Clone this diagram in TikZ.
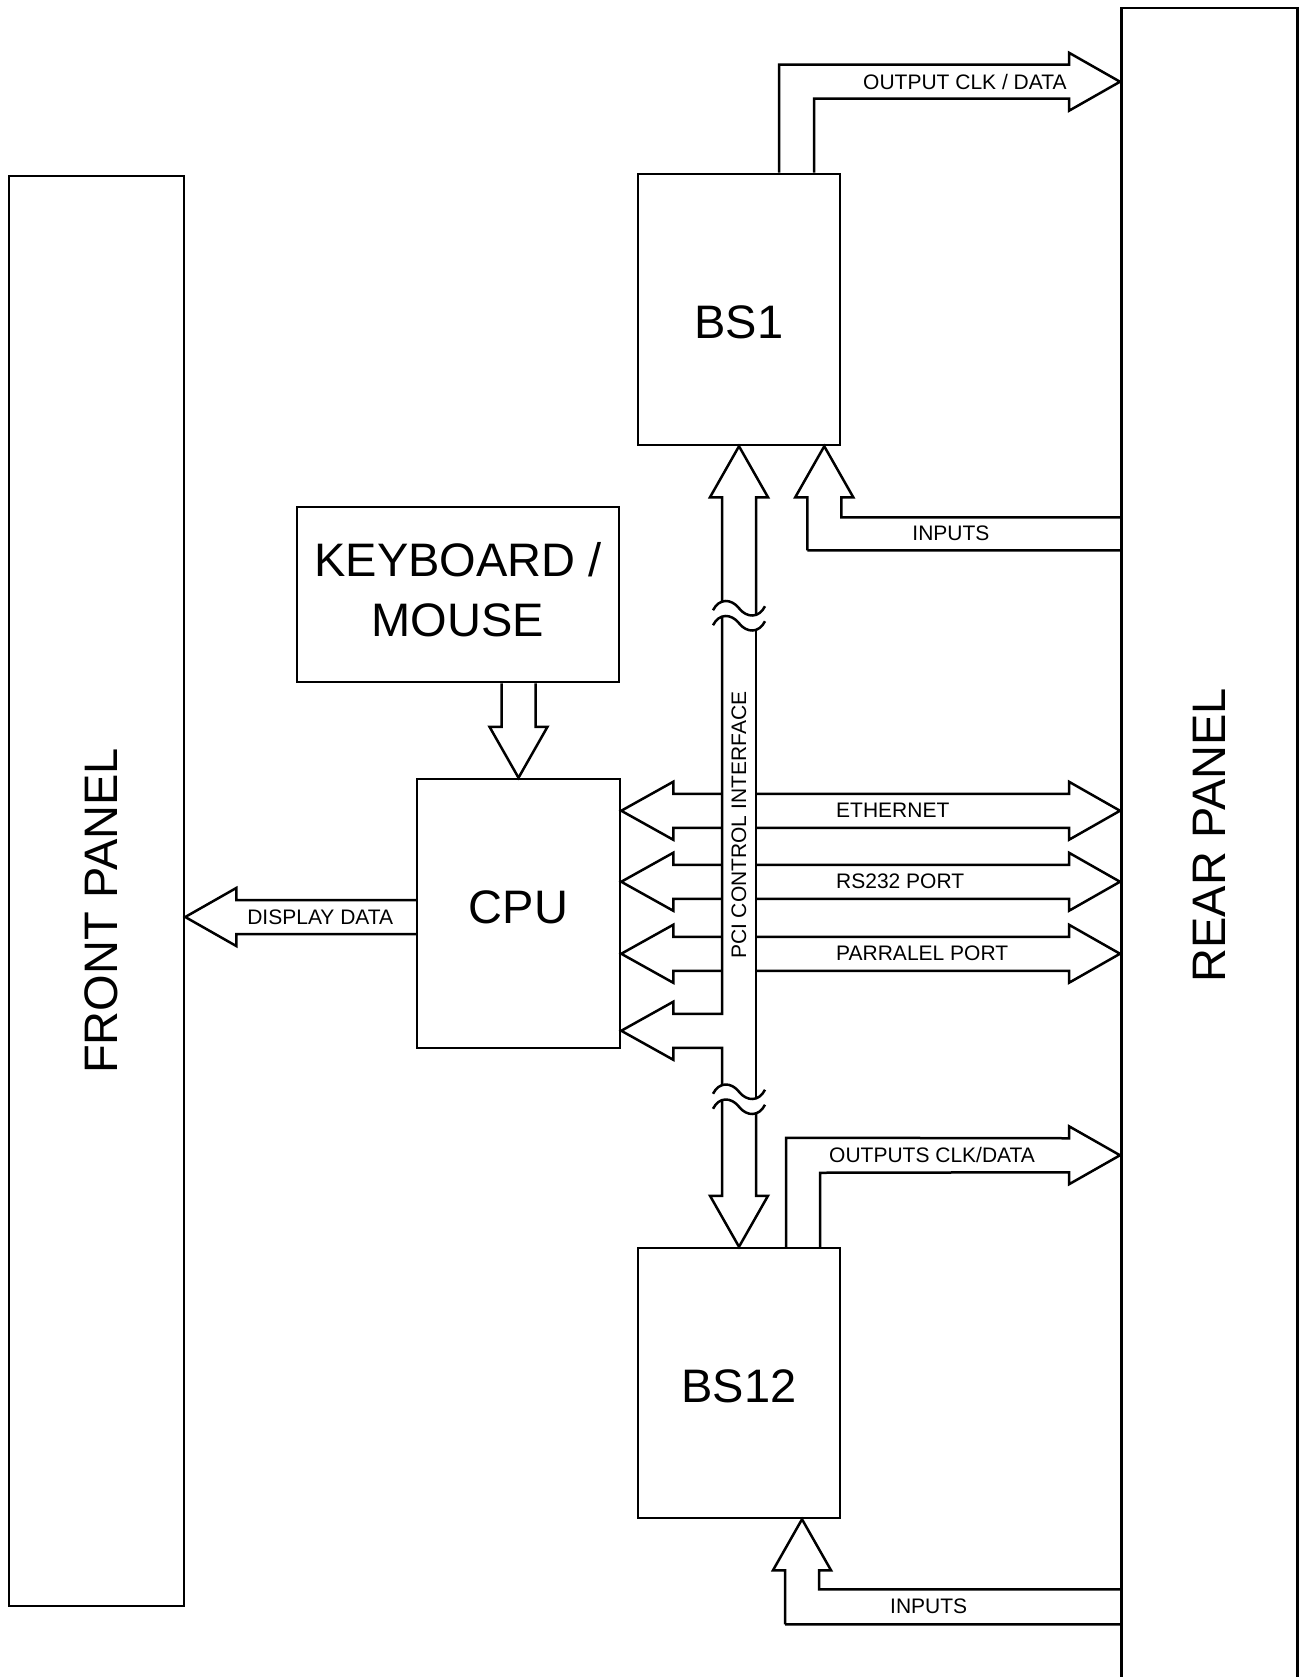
\documentclass[tikz,border=0pt]{standalone}
\usepackage{fontspec}
\setmainfont{Liberation Sans}
\usetikzlibrary{calc}
\tikzset{
  ln/.style={line width=2.5pt,line join=miter,draw=black},
  boxstyle/.style={draw=black,line width=2.5pt,fill=white,inner sep=0pt},
  bigbox/.style={boxstyle,font=\fontsize{47}{60}\selectfont,align=center},
  bigtxt/.style={font=\fontsize{47}{60}\selectfont,inner sep=0pt},
  smalltxt/.style={font=\fontsize{21}{25}\selectfont,inner sep=0pt}
}

\begin{document}
\begin{tikzpicture}[x=1pt,y=-1pt]
  \path[fill=white] (0,0) rectangle (1298,1677);
  \useasboundingbox (0,0) rectangle (1298,1677);
  % panels and boards
  \node[boxstyle,minimum width=175pt,minimum height=1430pt] (front) at (96.5,891) {};
  \node[bigtxt,rotate=90] (frontlbl) at ($(front.center)+(5,20)$) {FRONT PANEL};
  \node[boxstyle,minimum width=176pt,minimum height=1700pt,anchor=north west] (rear) at (1120,7) {};
  \node[bigtxt,rotate=90] (rearlbl) at ($(rear.center)+(0,-23)$) {REAR PANEL};
  \node[bigbox,minimum width=202pt,minimum height=271pt,text height=57.7pt,text depth=0pt] (bsone) at (739,309.5) {BS1};
  \node[bigbox,minimum width=202pt,minimum height=270pt,text height=39.7pt,text depth=0pt] (bstwelve) at (739,1383) {BS12};
  \node[bigbox,minimum width=203pt,minimum height=269pt,text height=33.7pt,text depth=13pt] (cpu) at (518.5,913.5) {CPU};
  \node[bigbox,minimum width=322pt,minimum height=175pt,text depth=10pt] (kbd) at (458,594.5) {KEYBOARD /\\MOUSE};

  \coordinate (outone) at ($(bsone.north -| rear.west)+(0,-91)$);
  \coordinate (outtwelve) at ($(bstwelve.north -| rear.west)+(0,-91.5)$);
  \coordinate (inone) at ($(bsone.south east)+(-17,0)$);
  \coordinate (intwelve) at ($(bstwelve.south)+(63,0)$);
  \coordinate (brkone) at ($(bsone.south)+(0,162)$);
  \coordinate (brktwo) at ($(bstwelve.north)+(0,-155)$);
  \coordinate (eth) at ($(cpu.north east)+(0,33)$);
  \coordinate (rs) at ($(cpu.north east)+(0,104)$);
  \coordinate (par) at ($(cpu.north east)+(0,176)$);
  \coordinate (pcirow) at ($(cpu.north east)+(0,253)$);

  % keyboard -> cpu, cpu -> front panel
  \draw[ln] ($(kbd.south -| cpu.north)+(-17,0)$) -- ($(cpu.north)+(-17,-51)$) -- ++(-12,0) -- (cpu.north) -- ($(cpu.north)+(29,-51)$) -- ++(-12,0) -- ($(kbd.south -| cpu.north)+(17,0)$);
  \draw[ln] ($(cpu.west)+(0,-13.5)$) -- ($(front.east |- cpu.west)+(51,-13.5)$) -- ++(0,-12) -- ($(front.east |- cpu.west)+(0,3.5)$) -- ($(front.east |- cpu.west)+(51,32.5)$) -- ++(0,-12) -- ($(cpu.west)+(0,20.5)$);
  \node[smalltxt] (displbl) at ($(front.east |- cpu.west)+(135,3.5)$) {DISPLAY DATA};

  % BS1 outputs and inputs
  \draw[ln] ($(bsone.north)+(40,0)$) -- ($(bsone.north)+(40,-108)$) -- ($(outone)+(-51,-17)$) -- ++(0,-12) -- (outone) -- ($(outone)+(-51,29)$) -- ++(0,-12) -- ($(bsone.north)+(75,-74)$) -- ($(bsone.north)+(75,0)$);
  \node[smalltxt,anchor=west] (outonelbl) at ($(outone)+(-257,0)$) {OUTPUT CLK / DATA};
  \draw[ln] ($(inone)+(-17,104)$) coordinate (p) -- ($(inone)+(-17,51)$) -- ++(-12,0) -- (inone) -- ($(inone)+(29,51)$) -- ++(-12,0) -- ($(inone)+(17,71)$) coordinate (q) -- (q -| rear.west) (p) -- (p -| rear.west);
  \node[smalltxt,anchor=west] (inonelbl) at ($(inone)+(88,87.5)$) {INPUTS};

  % BS12 outputs and inputs
  \draw[ln] ($(bstwelve.north)+(47,0)$) -- ($(bstwelve.north)+(47,-109)$) -- ($(outtwelve)+(-51,-17)$) -- ++(0,-12) -- (outtwelve) -- ($(outtwelve)+(-51,29)$) -- ++(0,-12) -- ($(bstwelve.north)+(81,-74)$) -- ($(bstwelve.north)+(81,0)$);
  \node[smalltxt,anchor=west] (outtwelvelbl) at ($(outtwelve)+(-291,0)$) {OUTPUTS CLK/DATA};
  \draw[ln] ($(intwelve)+(-17,105)$) coordinate (p) -- ($(intwelve)+(-17,51)$) -- ++(-12,0) -- (intwelve) -- ($(intwelve)+(29,51)$) -- ++(-12,0) -- ($(intwelve)+(17,70)$) coordinate (q) -- (q -| rear.west) (p) -- (p -| rear.west);
  \node[smalltxt,anchor=west] (intwelvelbl) at ($(intwelve)+(88,87.5)$) {INPUTS};

  % PCI bus
  \draw[ln] ($(brkone)+(-17,-6)$) -- ($(bsone.south)+(-17,51)$) -- ++(-12,0) -- (bsone.south) -- ($(bsone.south)+(29,51)$) -- ++(-12,0) -- ($(brkone)+(17,6)$);
  \draw[ln] ($(brkone)+(-17,9)$) -- ($(pcirow -| brkone)+(-17,-17)$) -- ($(pcirow)+(52,-17)$) -- ++(0,-12) -- (pcirow) -- ($(pcirow)+(52,29)$) -- ++(0,-12) -- ($(pcirow -| brkone)+(-17,17)$) -- ($(brktwo)+(-17,-6)$);
  \draw[ln] ($(brkone)+(17,21)$) -- ($(brktwo)+(17,6)$);
  \draw[ln] ($(brktwo)+(-17,9)$) -- ($(bstwelve.north)+(-17,-51)$) -- ++(-12,0) -- (bstwelve.north) -- ($(bstwelve.north)+(29,-51)$) -- ++(-12,0) -- ($(brktwo)+(17,21)$);
  \draw[ln,shift={(brkone)}] (-26,2) .. controls (-20,-10) and (-8,-10) .. (0,0) .. controls (8,10) and (20,10) .. (26,-2);
  \draw[ln,shift={($(brkone)+(0,15)$)}] (-26,2) .. controls (-20,-10) and (-8,-10) .. (0,0) .. controls (8,10) and (20,10) .. (26,-2);
  \draw[ln,shift={(brktwo)}] (-26,2) .. controls (-20,-10) and (-8,-10) .. (0,0) .. controls (8,10) and (20,10) .. (26,-2);
  \draw[ln,shift={($(brktwo)+(0,15)$)}] (-26,2) .. controls (-20,-10) and (-8,-10) .. (0,0) .. controls (8,10) and (20,10) .. (26,-2);
  \node[smalltxt,rotate=90] (pcilbl) at ($(brkone)+(0,217)$) {PCI CONTROL INTERFACE};

  % ports
  \draw[ln] ($(eth -| brkone)+(-17,-17)$) -- ($(eth)+(52,-17)$) -- ++(0,-12) -- (eth) -- ($(eth)+(52,29)$) -- ++(0,-12) -- ($(eth -| brkone)+(-17,17)$);
  \draw[ln] ($(eth -| brkone)+(17,-17)$) -- ($(eth -| rear.west)+(-51,-17)$) -- ++(0,-12) -- (eth -| rear.west) -- ($(eth -| rear.west)+(-51,29)$) -- ++(0,-12) -- ($(eth -| brkone)+(17,17)$);
  \node[smalltxt,anchor=west] (ethlbl) at ($(eth -| brkone)+(97,0)$) {ETHERNET};
  \draw[ln] ($(rs -| brkone)+(-17,-17)$) -- ($(rs)+(52,-17)$) -- ++(0,-12) -- (rs) -- ($(rs)+(52,29)$) -- ++(0,-12) -- ($(rs -| brkone)+(-17,17)$);
  \draw[ln] ($(rs -| brkone)+(17,-17)$) -- ($(rs -| rear.west)+(-51,-17)$) -- ++(0,-12) -- (rs -| rear.west) -- ($(rs -| rear.west)+(-51,29)$) -- ++(0,-12) -- ($(rs -| brkone)+(17,17)$);
  \node[smalltxt,anchor=west] (rslbl) at ($(rs -| brkone)+(97,0)$) {RS232 PORT};
  \draw[ln] ($(par -| brkone)+(-17,-17)$) -- ($(par)+(52,-17)$) -- ++(0,-12) -- (par) -- ($(par)+(52,29)$) -- ++(0,-12) -- ($(par -| brkone)+(-17,17)$);
  \draw[ln] ($(par -| brkone)+(17,-17)$) -- ($(par -| rear.west)+(-51,-17)$) -- ++(0,-12) -- (par -| rear.west) -- ($(par -| rear.west)+(-51,29)$) -- ++(0,-12) -- ($(par -| brkone)+(17,17)$);
  \node[smalltxt,anchor=west] (parlbl) at ($(par -| brkone)+(97,0)$) {PARRALEL PORT};
\end{tikzpicture}
\end{document}
